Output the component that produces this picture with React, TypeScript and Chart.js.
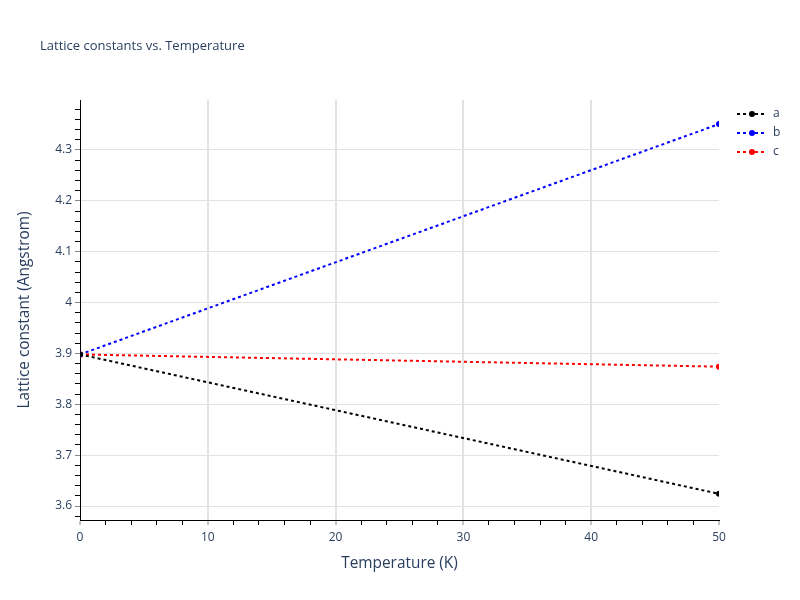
import React, { useEffect, useRef } from "react";
import { Chart, registerables } from "chart.js";

Chart.register(...registerables);

const temperatures = [0, 50];
const aValues = [3.898, 3.624];
const bValues = [3.898, 4.351];
const cValues = [3.898, 3.874];
const seriesNames = ["a", "b", "c"];
const seriesColors = ["#000000", "#0000ff", "#ff0000"];
const chartTitle = "Lattice constants vs. Temperature";
const xTitle = "Temperature (K)";
const yTitle = "Lattice constant (Angstrom)";
const yMin = 3.5725;
const yMax = 4.3983;

const TEXT = "#2a3f5f";
const FONT = "'Open Sans', Verdana, Arial, sans-serif";

const isMult = (v: number, step: number) => Math.abs(v / step - Math.round(v / step)) < 1e-6;

const overlay = {
  id: "overlay",
  afterDraw(chart: any) {
    const ctx = chart.ctx;
    ctx.save();
    ctx.fillStyle = TEXT;
    ctx.font = `13px ${FONT}`;
    ctx.textAlign = "left";
    ctx.textBaseline = "middle";
    ctx.fillText(chartTitle, 40, 46);
    seriesNames.forEach((name, i) => {
      const y = 114 + i * 19;
      ctx.strokeStyle = seriesColors[i];
      ctx.lineWidth = 2;
      ctx.setLineDash([3, 3]);
      ctx.beginPath();
      ctx.moveTo(737, y);
      ctx.lineTo(767, y);
      ctx.stroke();
      ctx.setLineDash([]);
      ctx.fillStyle = seriesColors[i];
      ctx.beginPath();
      ctx.arc(752, y, 3, 0, Math.PI * 2);
      ctx.fill();
      ctx.fillStyle = TEXT;
      ctx.font = `12px ${FONT}`;
      ctx.fillText(name, 773, y);
    });
    ctx.restore();
  },
};

export default function App() {
  const ref = useRef<HTMLCanvasElement>(null);
  useEffect(() => {
    if (!ref.current) return;
    const mk = (label: string, data: number[], color: string) => ({
      label,
      data: temperatures.map((t, i) => ({ x: t, y: data[i] })),
      borderColor: color,
      backgroundColor: color,
      borderWidth: 2,
      borderDash: [3, 3],
      pointRadius: 3,
      pointBorderWidth: 0,
      pointBackgroundColor: color,
      clip: 0,
      tension: 0,
    });
    const chart = new Chart(ref.current, {
      type: "line",
      data: {
        datasets: [
          mk(seriesNames[0], aValues, seriesColors[0]),
          mk(seriesNames[1], bValues, seriesColors[1]),
          mk(seriesNames[2], cValues, seriesColors[2]),
        ],
      },
      options: {
        animation: false,
        responsive: false,
        layout: { padding: { left: 0, top: 100, right: 81, bottom: 0 } },
        plugins: { legend: { display: false }, title: { display: false }, tooltip: { enabled: false } },
        scales: {
          x: {
            type: "linear",
            min: 0,
            max: 50,
            afterFit: (s: any) => { s.height = 80; },
            afterBuildTicks: (s: any) => {
              const t = [];
              for (let v = 0; v <= 50 + 1e-9; v += 2) t.push({ value: v });
              s.ticks = t;
            },
            ticks: {
              autoSkip: false,
              maxRotation: 0,
              padding: 5,
              color: TEXT,
              font: { family: FONT, size: 12 },
              callback: (v: any) => (isMult(v, 10) ? String(v) : ""),
            },
            grid: {
              color: (c: any) => {
                const v = c.tick ? c.tick.value : 0;
                return isMult(v, 10) && v > 0 && v < 50 ? "#e2e2e2" : "rgba(0,0,0,0)";
              },
              lineWidth: (c: any) => {
                const v = c.tick ? c.tick.value : 0;
                return isMult(v, 10) ? 2 : 1;
              },
              tickColor: (c: any) => {
                const v = c.tick ? c.tick.value : 0;
                return isMult(v, 10) ? "#8a8a8a" : "#000000";
              },
              tickLength: 5,
              tickWidth: 1,
            },
            border: { display: true, color: "#000000", width: 1 },
            title: { display: true, text: xTitle, color: TEXT, font: { family: FONT, size: 15.4 }, padding: { top: 4, bottom: 27 } },
          },
          y: {
            type: "linear",
            min: yMin,
            max: yMax,
            afterFit: (s: any) => { s.width = 80; },
            afterBuildTicks: (s: any) => {
              const t = [];
              const start = Math.ceil(yMin / 0.02 - 1e-9);
              const end = Math.floor(yMax / 0.02 + 1e-9);
              for (let k = start; k <= end; k++) t.push({ value: Number((k * 0.02).toFixed(2)) });
              s.ticks = t;
            },
            ticks: {
              autoSkip: false,
              padding: 3,
              color: TEXT,
              font: { family: FONT, size: 12 },
              callback: (v: any) => (isMult(v, 0.1) ? String(Number(Number(v).toFixed(1))) : ""),
            },
            grid: {
              color: (c: any) => {
                const v = c.tick ? c.tick.value : 0;
                return isMult(v, 0.1) ? "#e2e2e2" : "rgba(0,0,0,0)";
              },
              lineWidth: 1,
              tickColor: (c: any) => {
                const v = c.tick ? c.tick.value : 0;
                return isMult(v, 0.1) ? "#8a8a8a" : "#000000";
              },
              tickLength: 5,
              tickWidth: 1,
            },
            border: { display: true, color: "#000000", width: 1 },
            title: { display: true, text: yTitle, color: TEXT, font: { family: FONT, size: 15.4 }, padding: { top: 15, bottom: 4 } },
          },
        },
      },
      plugins: [overlay],
    } as any);
    return () => chart.destroy();
  }, []);
  return (
    <div style={{ position: "absolute", left: 0, top: 0, width: 800, height: 600, background: "#fff" }}>
      <canvas ref={ref} width={800} height={600} style={{ display: "block" }} />
    </div>
  );
}
